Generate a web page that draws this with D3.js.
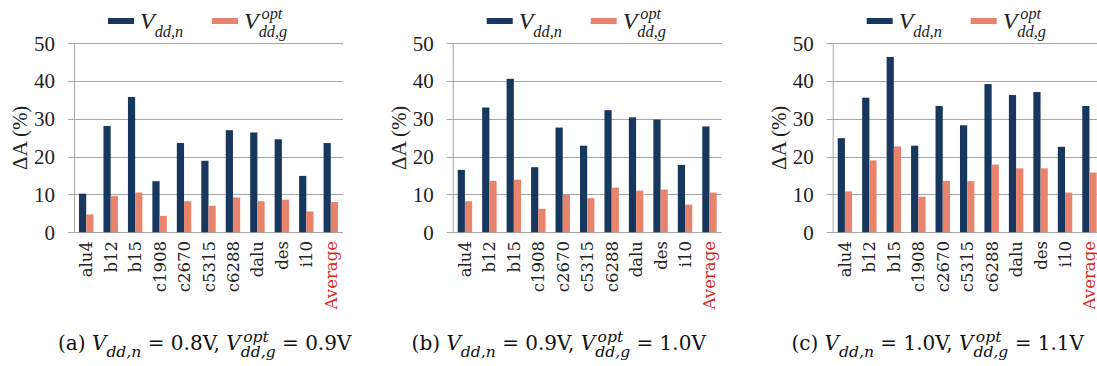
<!DOCTYPE html>
<html>
<head>
<meta charset="utf-8">
<script src="https://cdn.jsdelivr.net/npm/d3@7/dist/d3.min.js"></script>
<style>
  body { margin:0; background:#fff; }
  svg { display:block; }
</style>
</head>
<body>
<div id="app"></div>
<script>
// benchmark circuits
var categories = ['alu4','b12','b15','c1908','c2670','c5315','c6288','dalu','des','i10','Average'];
var yTicks = [0,10,20,30,40,50];

// area overhead (%)
var vddnA = [10.2,28.1,35.8,13.5,23.6,18.9,27.0,26.4,24.6,14.9,23.6];
var vddgA = [4.7,9.6,10.5,4.3,8.2,7.0,9.2,8.2,8.6,5.5,8.0];
var vddnB = [16.5,33.0,40.6,17.2,27.7,22.9,32.3,30.4,29.8,17.8,28.0];
var vddgB = [8.2,13.6,13.9,6.2,9.9,9.0,11.8,11.0,11.3,7.3,10.5];
var vddnC = [24.9,35.6,46.4,22.9,33.4,28.3,39.2,36.3,37.1,22.6,33.4];
var vddgC = [10.8,19.0,22.7,9.4,13.6,13.5,17.9,16.9,16.9,10.5,15.8];

var captionTag = ['(a)','(b)','(c)'];
var captionN = ['0.8V','0.9V','1.0V'];
var captionG = ['0.9V','1.0V','1.1V'];

var navy = '#17375e', salmon = '#e8846c', grid = '#a6a6a6';

var svg = d3.select('#app')
  .append('svg')
    .attr('width',1097)
    .attr('height',366);

var panels = [
  {n:vddnA, g:vddgA, left:74,    capX:205},
  {n:vddnB, g:vddgB, left:452.7, capX:559},
  {n:vddnC, g:vddgC, left:832.7, capX:938}
];

var plotW = 269, plotTop = 43.3, plotBottom = 232.2;

var y = d3.scaleLinear().domain([0,50]).range([plotBottom,plotTop]);

// writes V with a subscript (and optional superscript) into a text node
function vdd(text, sub, sup, size, scr){
  text.append('tspan').attr('font-style','italic').text('V');
  if(sup){
    var s = text.append('tspan')
        .attr('font-style','italic')
        .attr('font-size',size*scr)
        .attr('dx',size*0.12)
        .attr('dy',-size*0.42)
        .text(sup);
    var w = s.node().getComputedTextLength();
    text.append('tspan')
        .attr('font-style','italic')
        .attr('font-size',size*scr)
        .attr('dx',-w-size*0.12)
        .attr('dy',size*0.75)
        .text(sub);
    return size*0.33;
  }
  text.append('tspan')
      .attr('font-style','italic')
      .attr('font-size',size*scr)
      .attr('dy',size*0.33)
      .text(sub);
  return size*0.33;
}

panels.forEach(function(p,pi){
  var g = svg.append('g').attr('transform','translate('+p.left+',0)');

  var x = d3.scaleBand()
      .domain(categories)
      .range([0,plotW])
      .paddingInner(0.41)
      .paddingOuter(0.205);
  var x1 = d3.scaleBand()
      .domain(['n','g'])
      .range([0,x.bandwidth()]);

  // gridlines + y ticks
  g.selectAll('.grid')
      .data(yTicks)
    .enter().append('line')
      .attr('x1',-6)
      .attr('x2',plotW)
      .attr('y1',function(d){return Math.round(y(d))+0.5})
      .attr('y2',function(d){return Math.round(y(d))+0.5})
      .attr('stroke',grid)
      .attr('stroke-width',1);

  g.append('line')
      .attr('x1',0.5).attr('x2',0.5)
      .attr('y1',plotTop).attr('y2',plotBottom+0.5)
      .attr('stroke',grid);

  g.selectAll('.ytick')
      .data(yTicks)
    .enter().append('text')
      .attr('x',-19)
      .attr('y',function(d){return y(d)})
      .attr('dy','0.35em')
      .attr('text-anchor','end')
      .style('font-family','"Liberation Serif", serif')
      .style('font-size','21px')
      .style('fill','#222')
      .text(function(d){return d});

  g.append('text')
      .attr('transform','translate(-47,'+(plotTop+plotBottom)/2+') rotate(-90)')
      .attr('text-anchor','middle')
      .style('font-family','"Liberation Serif", serif')
      .style('font-size','21px')
      .style('fill','#222')
      .text('\u0394A (%)');

  // bars
  var groups = g.selectAll('.cat')
      .data(categories)
    .enter().append('g')
      .attr('transform',function(d){return 'translate('+x(d)+',0)'});

  groups.append('rect')
      .attr('x',x1('n'))
      .attr('width',x1.bandwidth())
      .attr('y',function(d,i){return y(p.n[i])})
      .attr('height',function(d,i){return plotBottom-y(p.n[i])})
      .attr('fill',navy);

  groups.append('rect')
      .attr('x',x1('g'))
      .attr('width',x1.bandwidth())
      .attr('y',function(d,i){return y(p.g[i])})
      .attr('height',function(d,i){return plotBottom-y(p.g[i])})
      .attr('fill',salmon);

  // x labels
  g.selectAll('.xl')
      .data(categories)
    .enter().append('text')
      .attr('transform',function(d){return 'translate('+(x(d)+x.bandwidth()/2+6)+',241) rotate(-90)'})
      .attr('text-anchor','end')
      .style('font-family','DejaVu Serif')
      .style('font-size','16.5px')
      .style('fill',function(d){return d=='Average' ? '#d62a1e' : '#222'})
      .text(function(d){return d});

  // legend
  var lg = g.append('g').attr('transform','translate(34,0)');
  lg.append('rect').attr('x',0).attr('y',18).attr('width',26).attr('height',6).attr('fill',navy);
  var t1 = lg.append('text').attr('x',32).attr('y',29)
      .style('font-family','"Liberation Serif", serif').style('font-size','24px').style('fill','#222');
  vdd(t1,'dd,n',null,24,0.68);
  lg.append('rect').attr('x',104).attr('y',18).attr('width',26).attr('height',6).attr('fill',salmon);
  var t2 = lg.append('text').attr('x',136).attr('y',29)
      .style('font-family','"Liberation Serif", serif').style('font-size','24px').style('fill','#222');
  vdd(t2,'dd,g','opt',24,0.68);

  // caption
  var cg = svg.append('g');
  var ct = cg.append('text').attr('x',0).attr('y',350)
      .style('font-family','DejaVu Serif').style('font-size','20px').style('fill','#111');
  ct.append('tspan').text(captionTag[pi]+' ');
  var back = vdd(ct,'dd,n',null,20,0.78);
  ct.append('tspan').attr('dy',-back).text(' = '+captionN[pi]+', ');
  back = vdd(ct,'dd,g','opt',20,0.78);
  ct.append('tspan').attr('dy',-back).text(' = '+captionG[pi]);
  var w = ct.node().getBBox().width;
  cg.attr('transform','translate('+(p.capX-w/2)+',0)');
});
</script>
</body>
</html>
